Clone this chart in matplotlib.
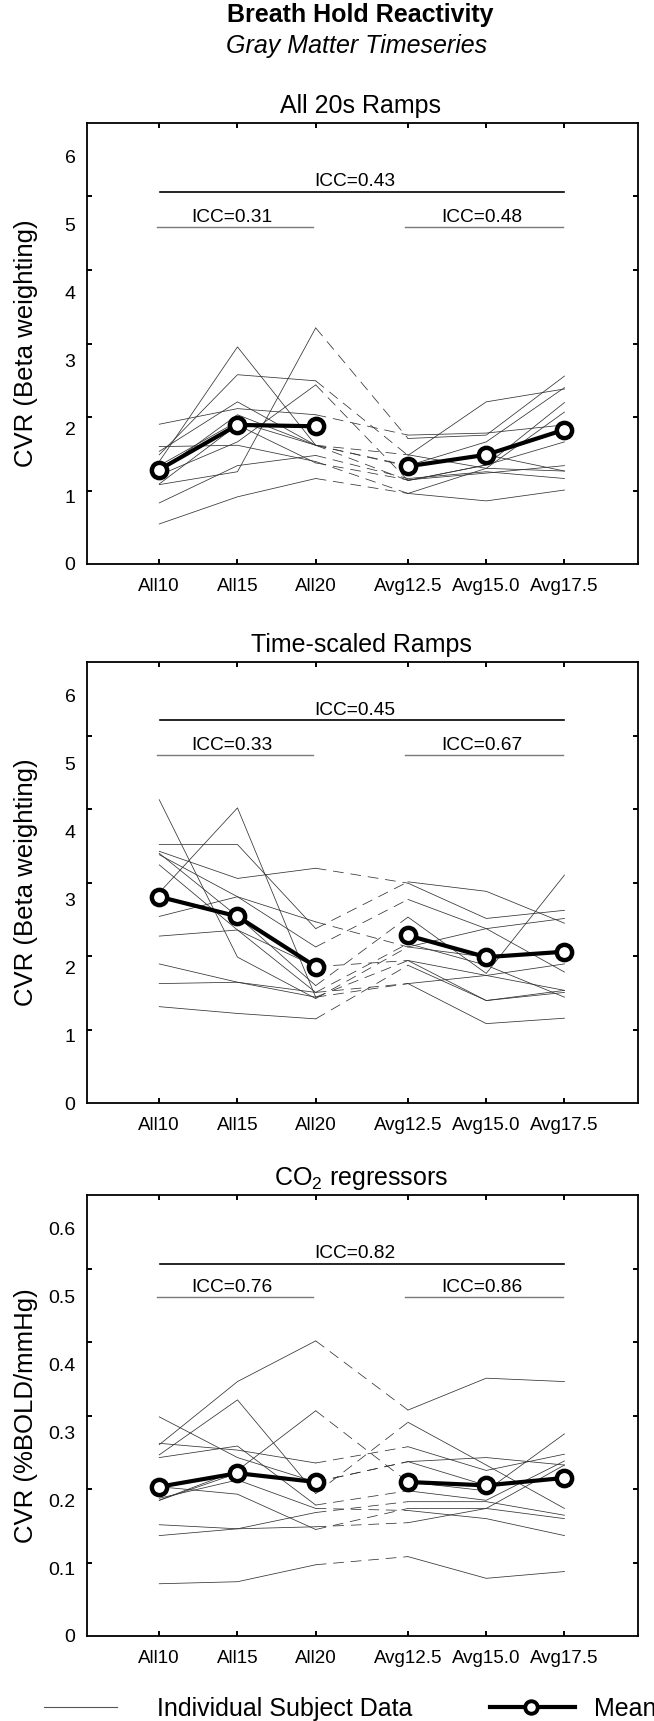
import matplotlib
matplotlib.use("Agg")
import matplotlib.pyplot as plt
from matplotlib.lines import Line2D
import numpy as np

plt.rcParams['font.family'] = ['Liberation Sans', 'DejaVu Sans']
plt.rcParams['mathtext.fontset'] = 'custom'
plt.rcParams['mathtext.rm'] = 'Liberation Sans'
plt.rcParams['mathtext.it'] = 'Liberation Sans:italic'
plt.rcParams['mathtext.bf'] = 'Liberation Sans:bold'

# ---------------- data ----------------
conditions = ['All10', 'All15', 'All20', 'Avg12.5', 'Avg15.0', 'Avg17.5']
x_pos = [1, 2, 3, 4.18, 5.18, 6.18]

ramps20_subjects = [
    [1.51, 3.20, 1.75, 1.45, 1.80, 2.60],
    [1.17, 1.36, 3.48, 1.85, 1.90, 2.77],
    [1.61, 2.79, 2.70, 1.60, 2.39, 2.58],
    [2.06, 2.29, 2.20, 1.90, 1.93, 2.05],
    [1.31, 1.80, 2.64, 1.23, 1.46, 2.38],
    [1.66, 2.39, 1.75, 1.44, 1.61, 1.37],
    [1.73, 1.75, 1.51, 1.04, 1.41, 2.24],
    [1.18, 2.05, 1.49, 1.24, 1.34, 1.45],
    [0.90, 1.45, 1.60, 1.26, 1.36, 1.26],
    [0.59, 0.99, 1.26, 1.04, 0.93, 1.09],
    [1.36, 2.20, 1.75, 1.23, 1.46, 1.80],
    [1.45, 2.10, 1.75, 1.61, 1.41, 1.37],
]
ramps20_mean = [1.39, 2.05, 2.03, 1.44, 1.61, 1.98]
ramps20_icc = ['ICC=0.43', 'ICC=0.31', 'ICC=0.48']

scaled_subjects = [
    [4.47, 2.15, 1.54, 2.30, 2.57, 1.93],
    [3.10, 4.35, 1.56, 2.10, 1.88, 1.66],
    [3.81, 3.81, 2.57, 3.26, 3.12, 2.65],
    [3.71, 3.31, 3.46, 3.24, 2.72, 2.84],
    [3.68, 2.75, 1.73, 2.74, 1.91, 3.36],
    [3.66, 3.04, 2.30, 3.00, 2.57, 2.72],
    [3.51, 2.55, 1.63, 2.35, 2.03, 1.56],
    [2.75, 3.04, 2.67, 2.30, 2.15, 2.23],
    [2.46, 2.55, 2.01, 2.10, 1.51, 1.66],
    [2.05, 1.78, 1.63, 1.76, 1.17, 1.25],
    [1.76, 1.78, 1.56, 1.76, 1.88, 2.05],
    [1.42, 1.32, 1.24, 2.03, 1.51, 1.63],
]
scaled_mean = [3.04, 2.75, 2.01, 2.47, 2.15, 2.23]
scaled_icc = ['ICC=0.45', 'ICC=0.33', 'ICC=0.67']

co2_subjects = [
    [0.282, 0.375, 0.435, 0.333, 0.380, 0.375],
    [0.267, 0.348, 0.210, 0.315, 0.252, 0.188],
    [0.323, 0.263, 0.227, 0.257, 0.263, 0.252],
    [0.200, 0.244, 0.332, 0.227, 0.214, 0.298],
    [0.284, 0.274, 0.255, 0.279, 0.244, 0.268],
    [0.263, 0.280, 0.193, 0.214, 0.200, 0.258],
    [0.203, 0.230, 0.188, 0.185, 0.173, 0.148],
    [0.220, 0.209, 0.157, 0.188, 0.188, 0.173],
    [0.164, 0.158, 0.161, 0.167, 0.188, 0.252],
    [0.148, 0.158, 0.182, 0.198, 0.198, 0.178],
    [0.200, 0.240, 0.227, 0.257, 0.222, 0.233],
    [0.077, 0.080, 0.105, 0.117, 0.085, 0.095],
]
co2_mean = [0.220, 0.240, 0.227, 0.227, 0.222, 0.233]
co2_icc = ['ICC=0.82', 'ICC=0.76', 'ICC=0.86']

titles = ['All 20s Ramps', 'Time-scaled Ramps', 'CO$_\\mathregular{2}$ regressors']
ylabels = ['CVR (Beta weighting)', 'CVR (Beta weighting)', 'CVR (%BOLD/mmHg)']
ytick_labels = [['0', '1', '2', '3', '4', '5', '6'],
                ['0', '1', '2', '3', '4', '5', '6'],
                ['0', '0.1', '0.2', '0.3', '0.4', '0.5', '0.6']]

# ---------------- layout (pixels) ----------------
W, H = 654, 1721
fig = plt.figure(figsize=(W / 100, H / 100), dpi=100)

def fy(px):
    return 1 - px / H

def fx(px):
    return px / W

ax_left, ax_right = 86.5, 638
panel_tops = [123, 662, 1195]
panel_h = 441
scales = [1.0, 1.0, 0.1]
icc_levels = [(5.49, 4.97), (5.64, 5.13), (5.49, 4.99)]

SUBJ_COLOR = '#333333'
SUBJ_LW = 0.55

panels = [
    (ramps20_subjects, ramps20_mean, ramps20_icc),
    (scaled_subjects, scaled_mean, scaled_icc),
    (co2_subjects, co2_mean, co2_icc),
]

for i, (subjects, mean, icc) in enumerate(panels):
    top = panel_tops[i]
    ax = fig.add_axes([fx(ax_left), fy(top + panel_h),
                       fx(ax_right - ax_left), panel_h / H])
    s = scales[i]
    ax.set_xlim(0.07, 7.12)
    ax.set_ylim(0, 6.5 * s)

    for subj in subjects:
        ax.plot(x_pos[:3], subj[:3], color=SUBJ_COLOR, lw=SUBJ_LW, zorder=2)
        ax.plot(x_pos[3:], subj[3:], color=SUBJ_COLOR, lw=SUBJ_LW, zorder=2)
        ax.plot(x_pos[2:4], subj[2:4], color=SUBJ_COLOR, lw=SUBJ_LW,
                linestyle=(0, (14, 9)), zorder=2)

    for seg in (slice(0, 3), slice(3, 6)):
        ax.plot(x_pos[seg], mean[seg], color='black', lw=3.0, marker='o',
                ms=11, mew=3.2, mfc='white', mec='black', zorder=5)

    # ICC annotations
    top_lvl, low_lvl = icc_levels[i]
    top_lvl *= s
    low_lvl *= s
    dy = 0.075 * s
    ax.plot([1.01, 6.17], [top_lvl, top_lvl], color='black', lw=1.2, zorder=3)
    ax.plot([0.97, 2.96], [low_lvl, low_lvl], color='#7a7a7a', lw=1.0, zorder=3)
    ax.plot([4.14, 6.16], [low_lvl, low_lvl], color='#7a7a7a', lw=1.0, zorder=3)
    ax.text(3.5, top_lvl + dy, icc[0], ha='center', va='baseline', fontsize=13.8)
    ax.text(1.93, low_lvl + dy, icc[1], ha='center', va='baseline', fontsize=13.8)
    ax.text(5.12, low_lvl + dy, icc[2], ha='center', va='baseline', fontsize=13.8)

    # ticks
    ax.set_xticks(x_pos)
    ax.set_xticklabels(conditions, fontsize=13.5)
    ax.tick_params(axis='x', which='major', direction='in', length=3.5,
                   width=1.4, top=True, bottom=True, pad=10)
    major_y = [k * s for k in range(7)]
    ax.set_yticks(major_y)
    ax.set_yticklabels(ytick_labels[i], fontsize=14)
    ax.tick_params(axis='y', which='major', length=0, pad=8)
    ax.set_yticks([k * 6.5 / 6 * s for k in range(1, 6)], minor=True)
    ax.tick_params(axis='y', which='minor', direction='in', length=3.5,
                   width=1.4, left=True, right=True)
    for sp in ax.spines.values():
        sp.set_linewidth(1.3)

    # title and ylabel
    fig.text(fx(361), fy(113 + (top - 123)), titles[i], ha='center',
             va='baseline', fontsize=18)
    fig.text(fx(26), fy(top + panel_h / 2), ylabels[i], ha='center',
             va='center', rotation=90, fontsize=18.5)

# main titles
fig.text(fx(360), fy(22), 'Breath Hold Reactivity', ha='center',
         va='baseline', fontsize=18, fontweight='bold')
fig.text(fx(357), fy(53), 'Gray Matter Timeseries', ha='center',
         va='baseline', fontsize=18, style='italic')

# legend
ly = fy(1707)
fig.add_artist(Line2D([fx(44), fx(117)], [ly, ly], transform=fig.transFigure,
                      color='#555555', lw=0.8))
fig.text(fx(157), fy(1716), 'Individual Subject Data', ha='left',
         va='baseline', fontsize=18)
fig.add_artist(Line2D([fx(490), fx(575)], [ly, ly], transform=fig.transFigure,
                      color='black', lw=3.0))
fig.add_artist(Line2D([fx(531)], [ly], transform=fig.transFigure,
                      color='black', marker='o', ms=9, mew=2.8, mfc='white',
                      mec='black'))
fig.text(fx(594), fy(1716), 'Mean', ha='left', va='baseline', fontsize=18)

fig.savefig('out.png', dpi=100)
